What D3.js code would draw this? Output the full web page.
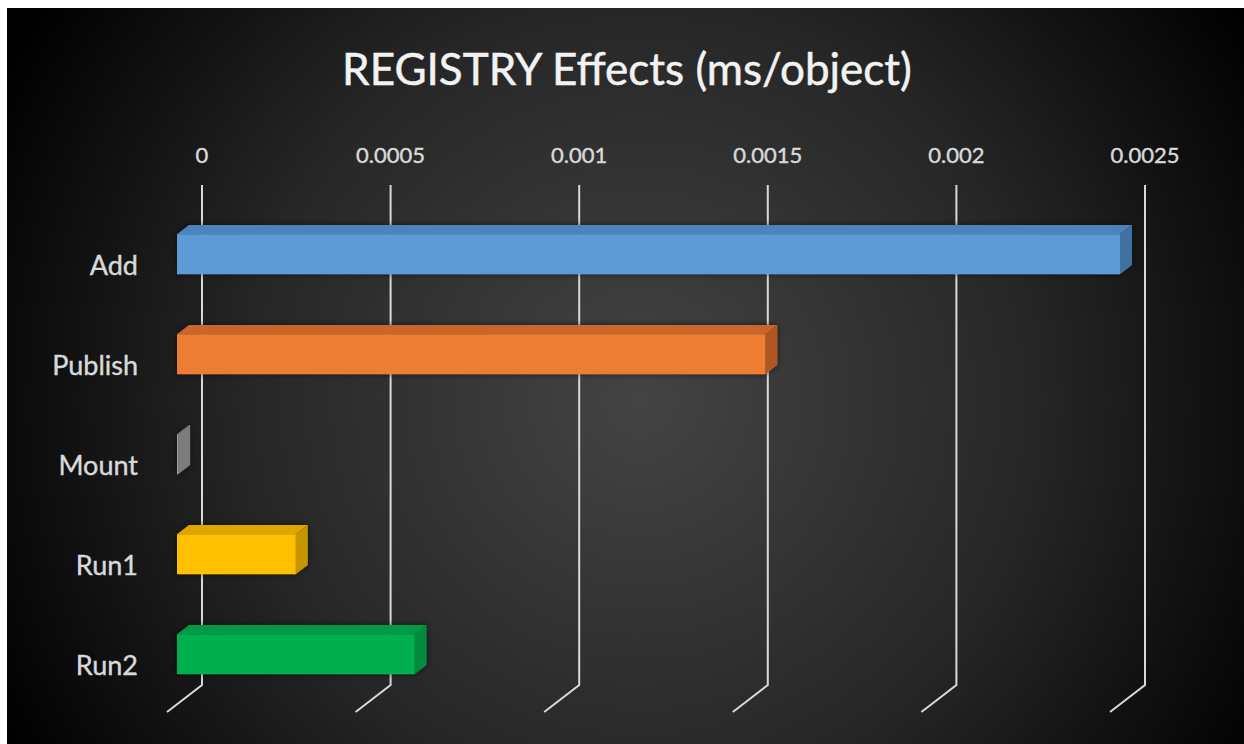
<!DOCTYPE html>
<html>
<head>
<meta charset="utf-8">
<script src="https://cdn.jsdelivr.net/npm/d3@7"></script>
<style>
  html, body { margin: 0; padding: 0; background: #ffffff; }
  svg { display: block; }
</style>
</head>
<body>
<svg id="chart" width="1244" height="744"></svg>
<script>
// Chart data
const categories = ["Add", "Publish", "Mount", "Run1", "Run2"];
const values = [0.0025, 0.00156, 0.000003, 0.000315, 0.00063];
const tickValues = [0, 0.0005, 0.001, 0.0015, 0.002, 0.0025];
const tickLabels = ["0", "0.0005", "0.001", "0.0015", "0.002", "0.0025"];
const frontColors = ["#5B9BD5", "#ED7D31", "#A5A5A5", "#FFC000", "#00B050"];
const topColors = ["#4C84BA", "#C9662A", "#8D8D8D", "#DDA600", "#009A45"];
const sideColors = ["#3F71A2", "#AF5621", "#7C7C7C", "#C69400", "#008A3D"];
const title = "REGISTRY Effects (ms/object)";

const W = 1244, H = 744;
const font = "Lato, 'Open Sans', sans-serif";
const svg = d3.select("#chart");
const defs = svg.append("defs");

// Dark radial background
const bg = defs.append("radialGradient").attr("id", "bg")
  .attr("gradientUnits", "userSpaceOnUse")
  .attr("cx", 640).attr("cy", 400).attr("r", 720);
bg.append("stop").attr("offset", "0%").attr("stop-color", "#444444");
bg.append("stop").attr("offset", "55%").attr("stop-color", "#262626");
bg.append("stop").attr("offset", "100%").attr("stop-color", "#000000");

const shadow = defs.append("filter").attr("id", "shadow")
  .attr("x", "-10%").attr("y", "-40%").attr("width", "120%").attr("height", "180%");
shadow.append("feDropShadow").attr("dx", 0).attr("dy", 0)
  .attr("stdDeviation", 3).attr("flood-color", "#000").attr("flood-opacity", 0.55);

svg.append("rect").attr("x", 7).attr("y", 8).attr("width", W - 7).attr("height", H - 8)
  .attr("fill", "url(#bg)");

// Oblique 3-D projection: depth 0 = back wall, depth 1 = front floor edge
const depthX = -35, depthY = 27;
const x = d3.scaleLinear().domain([0, 0.0025]).range([202, 1145]);
const y = d3.scaleBand().domain(categories).range([185, 685])
  .paddingInner(0.6).paddingOuter(0.3);
const proj = (px, py, z) => [px + depthX * z, py + depthY * z];

const barFront = 0.714, barBack = 0.371;

// Title
svg.append("text")
  .attr("x", 627).attr("y", 85)
  .attr("text-anchor", "middle")
  .attr("font-family", font)
  .attr("font-size", 44)
  .attr("fill", "#f2f2f2")
  .attr("stroke", "#f2f2f2").attr("stroke-width", 0.5)
  .text(title);

// Value gridlines on the back wall, turning forward along the floor
const grid = svg.append("g");
tickValues.forEach(v => {
  const top = [x(v), 185], bottom = [x(v), 685];
  const front = proj(x(v), 685, 1);
  grid.append("path")
    .attr("d", d3.line()([top, bottom, front]))
    .attr("fill", "none")
    .attr("stroke", "#d9d9d9")
    .attr("stroke-width", 2);
});

// Tick labels along the top
svg.append("g").selectAll("text").data(tickValues).join("text")
  .attr("x", d => x(d))
  .attr("y", 163)
  .attr("text-anchor", "middle")
  .attr("font-family", font)
  .attr("font-size", 22)
  .attr("fill", "#d9d9d9")
  .attr("stroke", "#d9d9d9").attr("stroke-width", 0.4)
  .text((d, i) => tickLabels[i]);

// Category labels
svg.append("g").selectAll("text").data(categories).join("text")
  .attr("x", 138)
  .attr("y", d => y(d) + y.bandwidth() / 2 + depthY + 4)
  .attr("dy", "0.35em")
  .attr("text-anchor", "end")
  .attr("font-family", font)
  .attr("font-size", 27)
  .attr("fill", "#d9d9d9")
  .attr("stroke", "#d9d9d9").attr("stroke-width", 0.4)
  .text(d => d);

// 3-D bars
const bars = svg.append("g").attr("filter", "url(#shadow)");
categories.forEach((c, i) => {
  const v = values[i];
  const y0 = y(c), y1 = y(c) + y.bandwidth();
  const x0 = x(0), x1 = x(v);
  const fTL = proj(x0, y0, barFront), fTR = proj(x1, y0, barFront);
  const fBR = proj(x1, y1, barFront), fBL = proj(x0, y1, barFront);
  const bTL = proj(x0, y0, barBack), bTR = proj(x1, y0, barBack);
  const bBR = proj(x1, y1, barBack);
  const g = bars.append("g");
  g.append("path").attr("d", d3.line()([fTL, fTR, bTR, bTL]) + "Z")
    .attr("fill", topColors[i]);
  g.append("path").attr("d", d3.line()([fTR, bTR, bBR, fBR]) + "Z")
    .attr("fill", sideColors[i]);
  g.append("path").attr("d", d3.line()([fTL, fTR, fBR, fBL]) + "Z")
    .attr("fill", frontColors[i]);
});
</script>
</body>
</html>
